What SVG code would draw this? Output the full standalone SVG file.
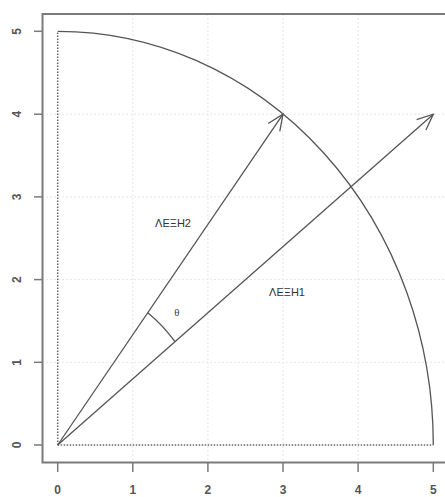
<svg xmlns="http://www.w3.org/2000/svg" width="445" height="497" viewBox="0 0 445 497">
<defs>
<style>
.grid{stroke:#e6e6e6;stroke-width:1;stroke-dasharray:2 2;fill:none}
.axis{stroke:#7a7a7a;stroke-width:2;fill:none}
.tick{stroke:#7a7a7a;stroke-width:1.5}
.tl{font-family:"Liberation Sans",Arial,sans-serif;font-size:12px;font-weight:bold;fill:#555;text-anchor:middle}
.dot{stroke:#666;stroke-width:1.5;stroke-dasharray:1.5 1.5;fill:none}
.ln{stroke:#555;stroke-width:1.3;fill:none}
.lbl{font-family:"Liberation Sans",Arial,sans-serif;font-size:11px;fill:#333;text-anchor:middle}
</style>
<marker id="ah" viewBox="0 0 20 20" refX="18" refY="10" markerWidth="20" markerHeight="20" markerUnits="userSpaceOnUse" orient="auto">
<path d="M2 3 L18 10 L2 17" fill="none" stroke="#555" stroke-width="1.3"/>
</marker>
</defs>
<rect width="445" height="497" fill="#fff"/>
<g id="grid">
<line class="grid" x1="132.8" y1="14" x2="132.8" y2="462"/>
<line class="grid" x1="207.9" y1="14" x2="207.9" y2="462"/>
<line class="grid" x1="283" y1="14" x2="283" y2="462"/>
<line class="grid" x1="358.1" y1="14" x2="358.1" y2="462"/>
<line class="grid" x1="42" y1="362.3" x2="445" y2="362.3"/>
<line class="grid" x1="42" y1="279.6" x2="445" y2="279.6"/>
<line class="grid" x1="42" y1="196.9" x2="445" y2="196.9"/>
<line class="grid" x1="42" y1="114.2" x2="445" y2="114.2"/>
</g>
<g id="axes">
<path class="axis" d="M446 14 H42.5 V462.5 H446"/>
<line class="tick" x1="34" y1="445" x2="42" y2="445"/>
<line class="tick" x1="34" y1="362.3" x2="42" y2="362.3"/>
<line class="tick" x1="34" y1="279.6" x2="42" y2="279.6"/>
<line class="tick" x1="34" y1="196.9" x2="42" y2="196.9"/>
<line class="tick" x1="34" y1="114.2" x2="42" y2="114.2"/>
<line class="tick" x1="34" y1="31.3" x2="42" y2="31.3"/>
<line class="tick" x1="57.7" y1="463" x2="57.7" y2="472"/>
<line class="tick" x1="132.8" y1="463" x2="132.8" y2="472"/>
<line class="tick" x1="207.9" y1="463" x2="207.9" y2="472"/>
<line class="tick" x1="283" y1="463" x2="283" y2="472"/>
<line class="tick" x1="358.1" y1="463" x2="358.1" y2="472"/>
<line class="tick" x1="433.3" y1="463" x2="433.3" y2="472"/>
<text class="tl" x="57.7" y="494">0</text>
<text class="tl" x="132.8" y="494">1</text>
<text class="tl" x="207.9" y="494">2</text>
<text class="tl" x="283" y="494">3</text>
<text class="tl" x="358.1" y="494">4</text>
<text class="tl" x="433.3" y="494">5</text>
<text class="tl" transform="translate(21,445) rotate(-90)">0</text>
<text class="tl" transform="translate(21,362.3) rotate(-90)">1</text>
<text class="tl" transform="translate(21,279.6) rotate(-90)">2</text>
<text class="tl" transform="translate(21,196.9) rotate(-90)">3</text>
<text class="tl" transform="translate(21,114.2) rotate(-90)">4</text>
<text class="tl" transform="translate(21,31.3) rotate(-90)">5</text>
</g>
<g id="connectors">
<line class="dot" x1="57.7" y1="445" x2="57.7" y2="31.3"/>
<line class="dot" x1="57.7" y1="445" x2="433.3" y2="445"/>
<path class="ln" d="M57.7 31.3 A375.6 413.7 0 0 1 433.3 445"/>
<line class="ln" x1="57.7" y1="445" x2="283" y2="114.2" marker-end="url(#ah)"/>
<line class="ln" x1="57.7" y1="445" x2="433.3" y2="114.2" marker-end="url(#ah)"/>
<path class="ln" d="M147.8 312.7 A150.2 165.4 0 0 1 175 341.7"/>
</g>
<g id="labels">
<text class="lbl" x="173" y="227">ΛΕΞΗ2</text>
<text class="lbl" x="287" y="295.5">ΛΕΞΗ1</text>
<text x="177" y="316" font-family="Liberation Serif,serif" font-size="11" fill="#444" text-anchor="middle">θ</text>
</g>
</svg>
